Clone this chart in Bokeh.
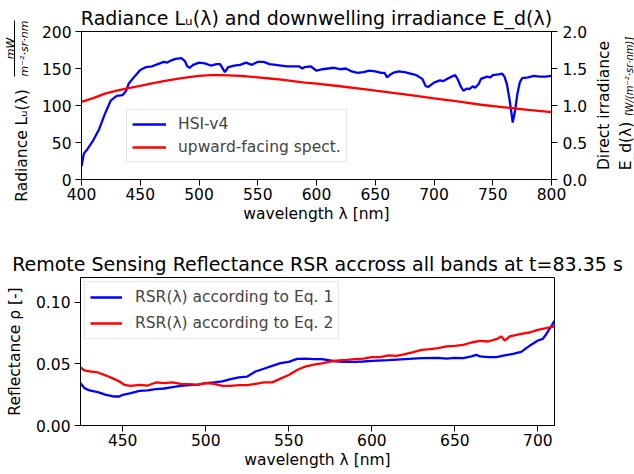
from bokeh.plotting import figure
from bokeh.models import (Range1d, LinearAxis, Legend, LegendItem,
                          FixedTicker, PrintfTickFormatter)
from bokeh.layouts import column, row
from bokeh.embed import file_html
from bokeh.resources import INLINE

FONT = "DejaVu Sans"
FS = "15.5px"
TFS = "19px"

# ---------------- top panel data ----------------
hsi_wl = [400, 402, 405, 410, 415, 420, 425, 430, 435, 438,
          440, 445, 450, 455, 460, 465, 470, 473, 475, 480,
          485, 488, 490, 492, 495, 500, 505, 510, 515, 518,
          522, 525, 530, 535, 540, 545, 550, 555, 560, 565,
          570, 575, 580, 585, 588, 590, 595, 600, 605, 610,
          615, 620, 625, 630, 635, 640, 645, 650, 655, 658,
          660, 663, 665, 670, 675, 680, 685, 690, 693, 695,
          700, 705, 708, 710, 715, 718, 720, 723, 725, 728,
          730, 733, 735, 738, 740, 745, 748, 750, 755, 758,
          760, 762, 764, 766, 767, 769, 771, 773, 775, 780,
          785, 790, 795, 800]
hsi_rad = [18, 35, 41, 53, 68, 89, 107, 113, 114, 120,
           129, 139, 148, 152, 153, 156, 159, 158, 160, 163,
           164, 160, 153, 151, 155, 158, 157, 154, 156, 156,
           145, 152, 154, 155, 158, 155, 159, 159, 156, 155,
           154, 153, 153, 153, 150, 152, 153, 147, 149, 150,
           151, 149, 150, 146, 144, 145, 147, 146, 144, 144,
           138, 142, 144, 146, 145, 143, 141, 136, 126, 125,
           131, 134, 133, 135, 139, 141, 136, 125, 120, 123,
           122, 126, 124, 129, 136, 139, 138, 141, 142, 143,
           139, 129, 111, 89, 77, 93, 116, 131, 137, 138,
           140, 139, 139, 140]

up_wl = [400, 410, 420, 430, 440, 450, 460, 470, 480, 490,
         500, 510, 520, 530, 540, 550, 560, 570, 580, 590,
         600, 620, 640, 660, 680, 700, 720, 740, 760, 780, 800]
up_irr = [1.05, 1.10, 1.16, 1.20, 1.235, 1.265, 1.30, 1.33, 1.355, 1.38,
          1.40, 1.41, 1.41, 1.405, 1.395, 1.38, 1.365, 1.35, 1.33, 1.31,
          1.295, 1.26, 1.22, 1.18, 1.14, 1.095, 1.055, 1.01, 0.975, 0.94, 0.91]

# ---------------- bottom panel data ----------------
eq1_wl = [424.6, 427, 430, 435, 440, 445, 448, 450, 455, 460,
          465, 470, 475, 480, 485, 490, 495, 500, 505, 510,
          515, 520, 525, 530, 535, 540, 545, 550, 555, 560,
          565, 570, 575, 580, 585, 590, 595, 600, 610, 620,
          630, 640, 645, 650, 655, 660, 663, 665, 670, 675,
          680, 685, 690, 693, 695, 700, 703, 705, 708, 710]
eq1_rsr = [0.0343, 0.0303, 0.0284, 0.0270, 0.0249, 0.0235, 0.0235, 0.0249, 0.0262, 0.0281,
           0.0284, 0.0295, 0.0300, 0.0311, 0.0322, 0.0327, 0.0332, 0.0343, 0.0349, 0.0357,
           0.0376, 0.0390, 0.0397, 0.0438, 0.0460, 0.0484, 0.0505, 0.0516, 0.0540, 0.0543,
           0.0538, 0.0538, 0.0527, 0.0519, 0.0516, 0.0516, 0.0519, 0.0524, 0.0530, 0.0538,
           0.0546, 0.0549, 0.0543, 0.0549, 0.0546, 0.0560, 0.0573, 0.0560, 0.0554, 0.0554,
           0.0568, 0.0581, 0.0597, 0.0627, 0.0646, 0.0689, 0.0703, 0.0740, 0.0803, 0.0849]

eq2_wl = [424.6, 427, 430, 435, 440, 445, 448, 451, 455, 460,
          465, 470, 475, 480, 485, 490, 495, 500, 505, 510,
          515, 520, 525, 530, 535, 540, 545, 550, 555, 560,
          565, 570, 575, 580, 585, 590, 595, 600, 605, 610,
          615, 620, 625, 630, 635, 640, 645, 650, 655, 660,
          665, 670, 675, 678, 680, 683, 690, 695, 700, 705, 710]
eq2_rsr = [0.0470, 0.0446, 0.0438, 0.0430, 0.0405, 0.0376, 0.0357, 0.0330, 0.0322, 0.0330,
           0.0324, 0.0349, 0.0343, 0.0349, 0.0338, 0.0335, 0.0330, 0.0343, 0.0338, 0.0322,
           0.0322, 0.0327, 0.0327, 0.0338, 0.0349, 0.0350, 0.0380, 0.0410, 0.0450, 0.0478,
           0.0493, 0.0503, 0.0518, 0.0527, 0.0532, 0.0538, 0.0543, 0.0554, 0.0554, 0.0568,
           0.0565, 0.0578, 0.0595, 0.0614, 0.0619, 0.0627, 0.0641, 0.0646, 0.0654, 0.0673,
           0.0686, 0.0681, 0.0700, 0.0722, 0.0689, 0.0722, 0.0743, 0.0754, 0.0776, 0.0789, 0.0803]

top_xticks = [400, 450, 500, 550, 600, 650, 700, 750, 800]
top_yticks = [0, 50, 100, 150, 200]
top_rticks = [0.0, 0.5, 1.0, 1.5, 2.0]
bot_xticks = [450, 500, 550, 600, 650, 700]
bot_yticks = [0.0, 0.05, 0.10]

BLUE = "#0000ff"
RED = "#ff0000"
H1 = 240
H2 = 234


def style_axis(ax):
    ax.axis_line_color = "black"
    ax.axis_line_width = 1
    ax.major_tick_line_color = "black"
    ax.major_tick_line_width = 1
    ax.major_tick_out = 6
    ax.major_tick_in = 0
    ax.minor_tick_line_color = None
    ax.major_label_text_font = FONT
    ax.major_label_text_font_size = FS
    ax.major_label_text_color = "black"
    ax.major_label_standoff = 4
    ax.axis_label_text_font = FONT
    ax.axis_label_text_font_size = FS
    ax.axis_label_text_font_style = "normal"
    ax.axis_label_text_color = "black"


def style_fig(p):
    p.outline_line_color = "black"
    p.outline_line_width = 1
    p.outline_line_alpha = 1
    p.xgrid.visible = False
    p.ygrid.visible = False
    p.background_fill_color = "white"
    p.border_fill_color = "white"
    p.title.text_font = FONT
    p.title.text_font_size = TFS
    p.title.text_font_style = "normal"
    p.title.text_color = "black"
    p.title.align = "center"


def text_fig(w, h, border_left, border_top, border_bottom):
    """Small empty figure whose left-side axis labels carry rotated texts."""
    f = figure(width=w, height=h, x_range=Range1d(0, 1), y_range=Range1d(0, 1),
               output_backend="svg", toolbar_location=None,
               x_axis_location=None, y_axis_location=None,
               min_border_left=border_left, min_border_right=0,
               min_border_top=border_top, min_border_bottom=border_bottom)
    f.outline_line_color = None
    f.background_fill_color = "white"
    f.border_fill_color = "white"
    f.grid.visible = False
    f.xgrid.visible = False
    f.ygrid.visible = False
    return f


def text_axis(f, text, size, style="normal", standoff=0, line=False):
    ax = LinearAxis(ticker=FixedTicker(ticks=[]), axis_label=text)
    ax.axis_line_color = "black" if line else None
    ax.axis_line_width = 1
    ax.major_tick_line_color = None
    ax.minor_tick_line_color = None
    ax.major_tick_out = 0
    ax.major_tick_in = 0
    ax.minor_tick_out = 0
    ax.minor_tick_in = 0
    ax.major_label_standoff = 0
    ax.axis_label_standoff = standoff
    ax.axis_label_text_font = FONT
    ax.axis_label_text_font_size = size
    ax.axis_label_text_font_style = style
    ax.axis_label_text_color = "black"
    f.add_layout(ax, "left")
    return ax


# ---------------- top figure (page x 38..590) ----------------
p1 = figure(width=552, height=H1, x_range=Range1d(400, 800), y_range=Range1d(0, 200),
            output_backend="svg", toolbar_location=None,
            min_border_left=42, min_border_right=36, min_border_top=31, min_border_bottom=61,
            title="Radiance Lᵤ(λ) and downwelling irradiance E_d(λ)")
style_fig(p1)
p1.title.standoff = 6
p1.extra_y_ranges = {"irr": Range1d(0, 2)}

r_hsi = p1.line(hsi_wl, hsi_rad, line_color=BLUE, line_width=2.3)
r_up = p1.line(up_wl, up_irr, line_color=RED, line_width=2.3, y_range_name="irr")

p1.xaxis.ticker = FixedTicker(ticks=top_xticks)
p1.yaxis.ticker = FixedTicker(ticks=top_yticks)
p1.xaxis.axis_label = "wavelength λ [nm]"
style_axis(p1.xaxis[0])
style_axis(p1.yaxis[0])
p1.xaxis.major_label_standoff = 2
p1.xaxis.axis_label_standoff = 2

rax = LinearAxis(y_range_name="irr", ticker=FixedTicker(ticks=top_rticks),
                 formatter=PrintfTickFormatter(format="%.1f"))
style_axis(rax)
rax.major_label_standoff = 5
p1.add_layout(rax, "right")

leg1 = Legend(items=[LegendItem(label="HSI-v4", renderers=[r_hsi]),
                     LegendItem(label="upward-facing spect.", renderers=[r_up])],
              location=(45, 17))
leg1.label_text_font = FONT
leg1.label_text_font_size = FS
leg1.glyph_width = 34
leg1.glyph_height = 18
leg1.label_height = 18
leg1.label_standoff = 12
leg1.spacing = 5
leg1.padding = 5
leg1.margin = 0
leg1.border_line_color = "#cccccc"
leg1.border_line_width = 1
leg1.background_fill_alpha = 0.8
p1.add_layout(leg1)

# ---- left y label: "Radiance Lu(λ)" with a mW / (m^-2 sr nm) fraction above it ----
L1a = text_fig(38, 88, border_left=29, border_top=20, border_bottom=12)
text_axis(L1a, "m⁻²·sr·nm", "11px", style="italic")
text_axis(L1a, "mW", "11px", style="italic", standoff=-2, line=True)
L1b = text_fig(38, 152, border_left=26, border_top=0, border_bottom=38)
text_axis(L1b, "Radiance Lᵤ(λ)", FS)
L1 = column(L1a, L1b)

# ---- right y label (page x 590..634) ----
R1a = text_fig(24, H1, border_left=22, border_top=31, border_bottom=61)
text_axis(R1a, "Direct irradiance", FS)
R1b_top = text_fig(20, 115, border_left=15, border_top=37, border_bottom=0)
text_axis(R1b_top, "[W/(m⁻²·sr·nm)]", "10px", style="italic")
R1b_bot = text_fig(20, 125, border_left=18, border_top=0, border_bottom=64)
text_axis(R1b_bot, "E_d(λ)", FS)
R1 = row(R1a, column(R1b_top, R1b_bot))

# ---------------- bottom figure (page y 240..474) ----------------
p2 = figure(width=634, height=H2, x_range=Range1d(424.6, 710), y_range=Range1d(0, 0.12),
            output_backend="svg", toolbar_location=None,
            min_border_left=80, min_border_right=80, min_border_top=37, min_border_bottom=49,
            title="Remote Sensing Reflectance RSR accross all bands at t=83.35 s")
style_fig(p2)
p2.title.standoff = 5

r_e1 = p2.line(eq1_wl, eq1_rsr, line_color=BLUE, line_width=2.3)
r_e2 = p2.line(eq2_wl, eq2_rsr, line_color=RED, line_width=2.3)

p2.xaxis.ticker = FixedTicker(ticks=bot_xticks)
p2.yaxis.ticker = FixedTicker(ticks=bot_yticks)
p2.yaxis.formatter = PrintfTickFormatter(format="%.2f")
p2.xaxis.axis_label = "wavelength λ [nm]"
p2.yaxis.axis_label = "Reflectance ρ [-]"
style_axis(p2.xaxis[0])
style_axis(p2.yaxis[0])
p2.xaxis.major_label_standoff = 2
p2.xaxis.axis_label_standoff = 2
p2.yaxis.axis_label_standoff = 9

leg2 = Legend(items=[LegendItem(label="RSR(λ) according to Eq. 1", renderers=[r_e1]),
                     LegendItem(label="RSR(λ) according to Eq. 2", renderers=[r_e2])],
              location="top_left")
leg2.label_text_font = FONT
leg2.label_text_font_size = FS
leg2.glyph_width = 32
leg2.glyph_height = 20
leg2.label_height = 20
leg2.label_standoff = 13
leg2.spacing = 6
leg2.padding = 5
leg2.margin = 4
leg2.border_line_color = "#cccccc"
leg2.border_line_width = 1
leg2.background_fill_alpha = 0.8
p2.add_layout(leg2)

layout = column(row(L1, p1, R1), p2)
open("out.html", "w").write(file_html(layout, INLINE))
